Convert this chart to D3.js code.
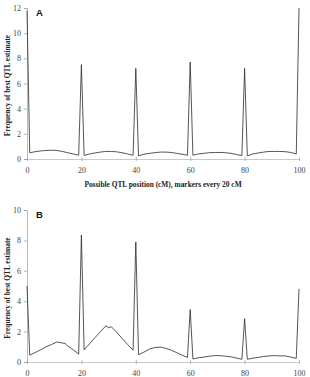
<!DOCTYPE html>
<html>
<head>
<meta charset="utf-8">
<script src="https://cdn.jsdelivr.net/npm/d3@7/dist/d3.min.js"></script>
<style>
  html, body { margin: 0; padding: 0; background: #fff; }
  svg { display: block; }
  .tick text { font-family: "Liberation Serif", serif; font-size: 8px; fill: #444; }
  .axis-title { font-family: "Liberation Serif", serif; font-size: 7.4px; font-weight: bold; fill: #222; }
  .panel-label { font-family: "Liberation Sans", Arial, sans-serif; font-size: 9.5px; font-weight: bold; fill: #111; }
</style>
</head>
<body>
<svg id="chart" width="310" height="377"></svg>
<script>
// ========== DATA ==========
const xTicks = [0, 20, 40, 60, 80, 100];

// panel A: positions (cM) and frequencies
const posA = [0, 1, 3, 5, 7, 9, 11, 13, 15, 17, 19, 20,
  21, 23, 25, 27, 29, 31, 33, 35, 37, 39, 40,
  41, 43, 45, 47, 49, 51, 53, 55, 57, 59, 60,
  61, 63, 65, 67, 69, 71, 73, 75, 77, 79, 80,
  81, 83, 85, 87, 89, 91, 93, 95, 97, 99, 100];
const freqA = [11.8, 0.5, 0.58, 0.64, 0.68, 0.7, 0.68, 0.6, 0.5, 0.4, 0.3, 7.5,
  0.28, 0.4, 0.48, 0.55, 0.6, 0.6, 0.57, 0.5, 0.4, 0.3, 7.2,
  0.25, 0.38, 0.45, 0.5, 0.55, 0.55, 0.52, 0.45, 0.38, 0.3, 7.7,
  0.3, 0.4, 0.45, 0.5, 0.52, 0.52, 0.5, 0.45, 0.36, 0.27, 7.2,
  0.25, 0.4, 0.48, 0.55, 0.6, 0.6, 0.6, 0.58, 0.52, 0.4, 12];
const yTicksA = [0, 2, 4, 6, 8, 10, 12];

// panel B
const posB = [0, 1, 3, 5, 7, 9, 11, 13, 14, 15, 17, 19, 20,
  21, 23, 25, 27, 29, 30, 31, 33, 35, 37, 39, 40,
  41, 43, 45, 47, 49, 51, 53, 55, 57, 59, 60,
  61, 63, 65, 67, 69, 71, 73, 75, 77, 79, 80,
  81, 83, 85, 87, 89, 91, 93, 95, 97, 99, 100];
const freqB = [5, 0.45, 0.62, 0.8, 1.0, 1.15, 1.32, 1.25, 1.22, 1.05, 0.8, 0.52, 8.35,
  0.8, 1.2, 1.6, 2.0, 2.38, 2.25, 2.32, 1.95, 1.55, 1.15, 0.78, 7.9,
  0.48, 0.65, 0.85, 0.95, 0.98, 0.9, 0.78, 0.62, 0.45, 0.3, 3.45,
  0.2, 0.28, 0.32, 0.38, 0.42, 0.42, 0.38, 0.34, 0.26, 0.18, 2.85,
  0.18, 0.25, 0.3, 0.36, 0.4, 0.42, 0.4, 0.4, 0.32, 0.24, 4.8];
const yTicksB = [0, 2, 4, 6, 8, 10];

const yTitle = "Frequency of best QTL estimate";
const xTitle = "Possible QTL position (cM), markers every 20 cM";

// ========== DRAW ==========
const svg = d3.select("#chart");
const x = d3.scaleLinear().domain([0, 100]).range([27, 299]);

function drawPanel(pos, freq, yTicks, yTop, yBottom, label, withXTitle) {
  const ymax = yTicks[yTicks.length - 1];
  const y = d3.scaleLinear().domain([0, ymax]).range([yBottom, yTop]);
  const g = svg.append("g");

  // y axis
  const ya = g.append("g")
    .attr("transform", `translate(${x(0)},0)`)
    .call(d3.axisLeft(y).tickValues(yTicks).tickSize(3).tickPadding(3));
  ya.select(".domain").attr("stroke", "#aaa").attr("stroke-width", 0.8);
  ya.selectAll(".tick line").attr("stroke", "#999").attr("stroke-width", 0.7);

  // x axis
  const xa = g.append("g")
    .attr("transform", `translate(0,${y(0)})`)
    .call(d3.axisBottom(x).tickValues(xTicks).tickSize(2).tickSizeOuter(0).tickPadding(6));
  xa.select(".domain").attr("stroke", "#bbb").attr("stroke-width", 0.8);
  xa.selectAll(".tick line").attr("y1", -2).attr("stroke", "#999").attr("stroke-width", 0.7);

  // series line
  const line = d3.line().x(d => x(d[0])).y(d => y(d[1]));
  g.append("path")
    .datum(d3.zip(pos, freq))
    .attr("fill", "none")
    .attr("stroke", "#2a2a2a")
    .attr("stroke-width", 0.8)
    .attr("stroke-linejoin", "miter")
    .attr("d", line);

  // y title
  g.append("text")
    .attr("class", "axis-title")
    .attr("text-anchor", "middle")
    .attr("transform", `translate(10,${(yTop + yBottom) / 2 + 2}) rotate(-90)`)
    .text(yTitle);

  // panel label
  g.append("text")
    .attr("class", "panel-label")
    .attr("x", 36)
    .attr("y", yTop + 8)
    .text(label);

  if (withXTitle) {
    g.append("text")
      .attr("class", "axis-title")
      .attr("text-anchor", "middle")
      .attr("x", 163)
      .attr("y", yBottom + 28)
      .text(xTitle);
  }
}

drawPanel(posA, freqA, yTicksA, 8, 159, "A", true);
drawPanel(posB, freqB, yTicksB, 210, 362, "B", false);
</script>
</body>
</html>
